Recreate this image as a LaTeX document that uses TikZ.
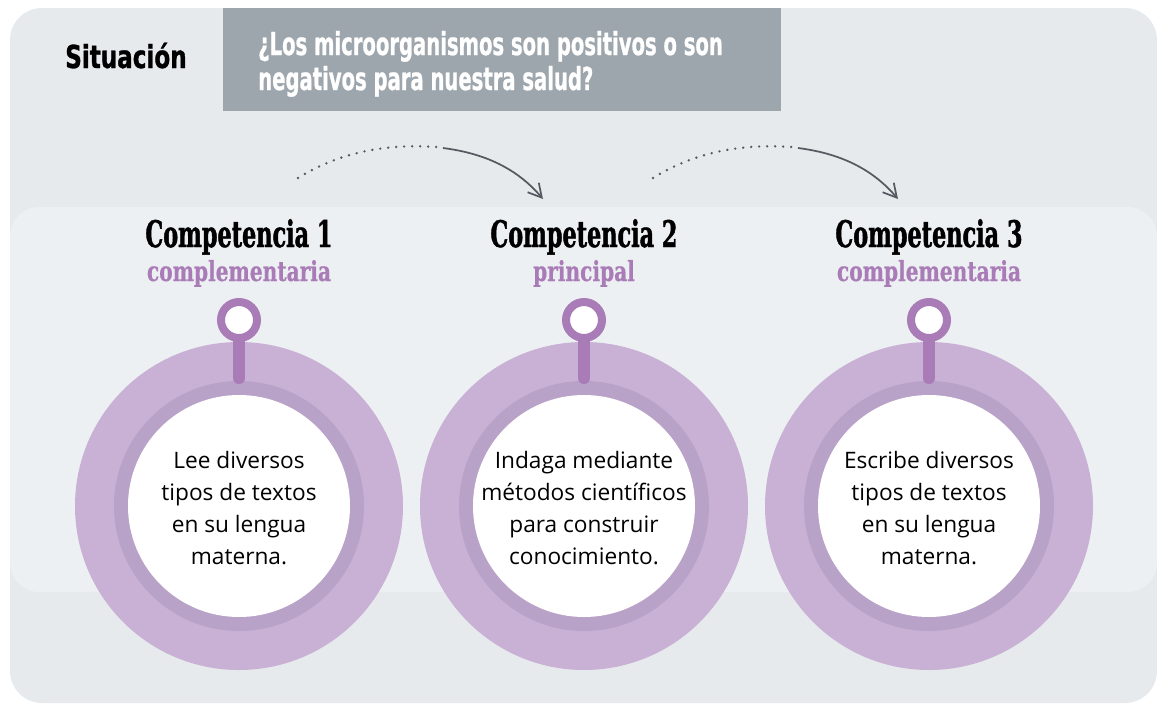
\documentclass[tikz,border=0pt]{standalone}
\usepackage{fontspec}
\usetikzlibrary{arrows.meta}
\setmainfont{Open Sans}
\newfontface\headfont{DejaVu Serif Bold}[FakeStretch=0.61,FakeBold=1.2]
\newfontface\subfont{DejaVu Serif Bold}[FakeStretch=0.73,FakeBold=0.6]
\newfontface\sitfont{DejaVu Sans Bold}[FakeStretch=0.73,FakeBold=1]
\newfontface\qfont{DejaVu Sans Bold}[FakeStretch=0.62,FakeBold=0.8]
\newfontfamily\bodyfont{Open Sans}
\definecolor{bgouter}{HTML}{E7EAED}
\definecolor{bgband}{HTML}{EDF0F3}
\definecolor{qboxc}{HTML}{9DA6AC}
\definecolor{ringout}{HTML}{C9B0D5}
\definecolor{ringmid}{HTML}{B9A2C8}
\definecolor{pinc}{HTML}{A97CB7}
\definecolor{arrowc}{HTML}{555A60}
\begin{document}
\begin{tikzpicture}[x=0.75pt,y=-0.75pt,
  outerc/.style={circle,inner sep=0pt,minimum size=246pt,fill=ringout},
  midc/.style={circle,inner sep=0pt,minimum size=187.5pt,fill=ringmid},
  innerc/.style={circle,inner sep=0pt,minimum size=166.5pt,fill=white},
  pinring/.style={circle,inner sep=0pt,minimum size=27pt,draw=pinc,line width=6pt,fill=white},
  stemline/.style={draw=pinc,line width=9pt,line cap=round},
  headtxt/.style={inner sep=0pt,font={\headfont\fontsize{27.5pt}{30pt}\selectfont},text=black},
  subtxt/.style={inner sep=0pt,font={\subfont\fontsize{20.7pt}{24pt}\selectfont},text=pinc},
  bodytxt/.style={inner sep=0pt,align=center,font={\bodyfont\fontsize{17pt}{24pt}\selectfont},text=black},
  dotline/.style={draw=arrowc,line width=2pt,line cap=round,dash pattern=on 0pt off 6pt},
  arrline/.style={draw=arrowc,line width=1.3pt,-{Straight Barb[length=10pt,width=11pt,line width=1.3pt]}}
]
\useasboundingbox (0,0) rectangle (1157,704);
\fill[bgouter,rounded corners=24pt] (10,8) rectangle (1157,703);
\fill[bgband,rounded corners=22pt] (10,207) rectangle (1157,592);
\fill[qboxc] (223,8) rectangle (781,111);
\node[inner sep=0pt,anchor=base west,font={\sitfont\fontsize{23.7pt}{26pt}\selectfont}] (sit) at (65,68) {Situación};
\node[inner sep=0pt,anchor=base west,text=white,font={\qfont\fontsize{23.7pt}{26pt}\selectfont}] (q1) at (258,55) {¿Los microorganismos son positivos o son};
\node[inner sep=0pt,anchor=base west,text=white,font={\qfont\fontsize{23.7pt}{26pt}\selectfont}] (q2) at (258,90) {negativos para nuestra salud?};
% arrows
\coordinate (a1s) at (298,178); \coordinate (a1m) at (437,147);
\coordinate (a1n) at (443,148); \coordinate (a1e) at (543,199);
\draw[dotline] (a1s) .. controls (335,155) and (380,143) .. (a1m);
\draw[arrline] (a1n) .. controls (490,154) and (520,172) .. (a1e);
\coordinate (a2s) at (653,178); \coordinate (a2m) at (792,147);
\coordinate (a2n) at (798,148); \coordinate (a2e) at (898,199);
\draw[dotline] (a2s) .. controls (690,155) and (735,143) .. (a2m);
\draw[arrline] (a2n) .. controls (845,154) and (875,172) .. (a2e);
% competences
\foreach \i/\cx/\sub/\txt in {1/239/complementaria/{Lee diversos\\tipos de textos\\en su lengua\\materna.},2/584/principal/{Indaga mediante\\métodos científicos\\para construir\\conocimiento.},3/929/complementaria/{Escribe diversos\\tipos de textos\\en su lengua\\materna.}}{
  \node[headtxt,anchor=base] (h\i) at (\cx,247) {Competencia \i};
  \node[subtxt,anchor=base] (s\i) at (\cx,281) {\sub};
  \node[outerc] (o\i) at (\cx,506) {};
  \node[midc] (m\i) at (\cx,506) {};
  \node[innerc] (w\i) at (\cx,506) {};
  \coordinate (pc\i) at (\cx,320);
  \draw[stemline] (pc\i) -- ([yshift=2pt]m\i.north);
  \node[pinring] (p\i) at (pc\i) {};
  \node[bodytxt] (t\i) at (\cx,508) {\txt};
}
\end{tikzpicture}
\end{document}
